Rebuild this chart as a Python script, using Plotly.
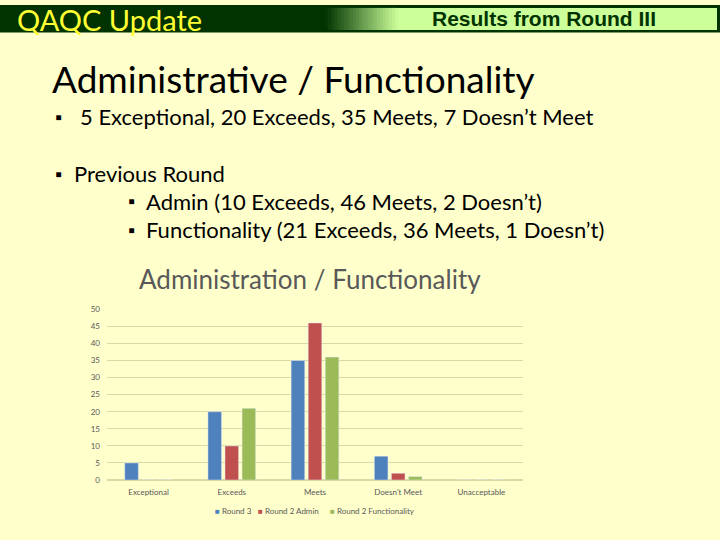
import plotly.graph_objects as go

categories = ["Exceptional", "Exceeds", "Meets", "Doesn't Meet", "Unacceptable"]
round3 = [5, 20, 35, 7, 0]
round2_admin = [0, 10, 46, 2, 0]
round2_func = [0, 21, 36, 1, 0]
series_names = ["Round 3", "Round 2 Admin", "Round 2 Functionality"]
series_colors = ["#4F81BD", "#C0504D", "#9BBB59"]
y_ticks = [0, 5, 10, 15, 20, 25, 30, 35, 40, 45, 50]

W, H = 720, 540
BG = "#FFFFCC"
DARK = "#003300"
LIGHT = (204, 255, 153)

def px(x):
    return x / W

def py(y):
    return 1 - y / H

fig = go.Figure()
for name, vals, col in zip(series_names, [round3, round2_admin, round2_func], series_colors):
    fig.add_bar(x=categories, y=vals, name=name, marker_color=col)

shapes = []
shapes.append(dict(type="rect", xref="paper", yref="paper", x0=0, x1=1, y0=py(28), y1=1,
                   fillcolor=DARK, line_width=0, layer="below"))
n = 24
gx0, gx1 = 325, 398
dr, dg, db = 0, 51, 0
for i in range(n):
    t = (i + 0.5) / n
    r = int(dr + (LIGHT[0] - dr) * t)
    g = int(dg + (LIGHT[1] - dg) * t)
    b = int(db + (LIGHT[2] - db) * t)
    xa = gx0 + (gx1 - gx0) * i / n
    xb = gx0 + (gx1 - gx0) * (i + 1) / n + 0.5
    shapes.append(dict(type="rect", xref="paper", yref="paper", x0=px(xa), x1=px(xb),
                       y0=py(25.5), y1=py(3), fillcolor=f"rgb({r},{g},{b})", line_width=0, layer="below"))
shapes.append(dict(type="rect", xref="paper", yref="paper", x0=px(gx1), x1=px(717), y0=py(25.5), y1=py(3),
                   fillcolor=f"rgb{LIGHT}", line_width=0, layer="below"))

ann = []
def text(x, y, s, size, color="black", family="Lato", anchor="left", bold=False, yanchor="middle"):
    if bold:
        s = f"<b>{s}</b>"
    ann.append(dict(x=px(x), y=py(y), xref="paper", yref="paper", text=s, showarrow=False,
                    xanchor=anchor, yanchor=yanchor, borderpad=0,
                    font=dict(size=size, color=color, family=family)))

text(16, 15, "QAQC Update", 29, color="#FFFF33", family="Lato")
text(544, 14, "Results from Round III", 21, color=DARK, family="Liberation Sans", anchor="center", bold=True)
text(51, 75, "Administrative / Functionality", 37)
text(54, 114, "▪", 18)
text(79, 114, "5 Exceptional, 20 Exceeds, 35 Meets, 7 Doesn’t Meet", 22)
text(54, 172, "▪", 18)
text(73, 172, "Previous Round", 22)
text(127, 200, "▪", 18)
text(145, 200, "Admin (10 Exceeds, 46 Meets, 2 Doesn’t)", 22)
text(127, 229, "▪", 18)
text(145, 229, "Functionality (21 Exceeds, 36 Meets, 1 Doesn’t)", 22)
text(310, 279, "Administration / Functionality", 26, color="#595959", anchor="center")

leg_x = [213, 256, 328]
for name, col, lx in zip(series_names, series_colors, leg_x):
    ann.append(dict(x=px(lx), y=py(516), xref="paper", yref="paper", showarrow=False,
                    xanchor="left", yanchor="middle",
                    text=f"<span style='color:{col}'>■</span> {name}",
                    font=dict(size=8, color="#595959", family="Lato")))

fig.update_layout(
    width=W, height=H,
    margin=dict(l=0, r=0, t=0, b=0),
    paper_bgcolor=BG, plot_bgcolor=BG,
    barmode="group", bargap=0.385, bargroupgap=0.2,
    shapes=shapes, annotations=ann,
    showlegend=False,
    xaxis=dict(domain=[px(107), px(523)], range=[-0.5, 4.5], showgrid=False, showline=False,
               ticks="", ticklabelstandoff=6,
               tickfont=dict(size=8, color="#595959", family="Lato")),
    yaxis=dict(domain=[py(484), py(310)], range=[0, 50], tickvals=y_ticks,
               gridcolor="#D9D9A8", gridwidth=1, zeroline=True, zerolinecolor="#D9D9A8",
               showline=False, ticks="", ticklabelstandoff=6,
               tickfont=dict(size=8, color="#595959", family="Lato")),
)

fig.write_html("out.html", config={"displayModeBar": False},
               post_script="document.body.style.margin='0';document.body.style.background='#FFFFCC';")
